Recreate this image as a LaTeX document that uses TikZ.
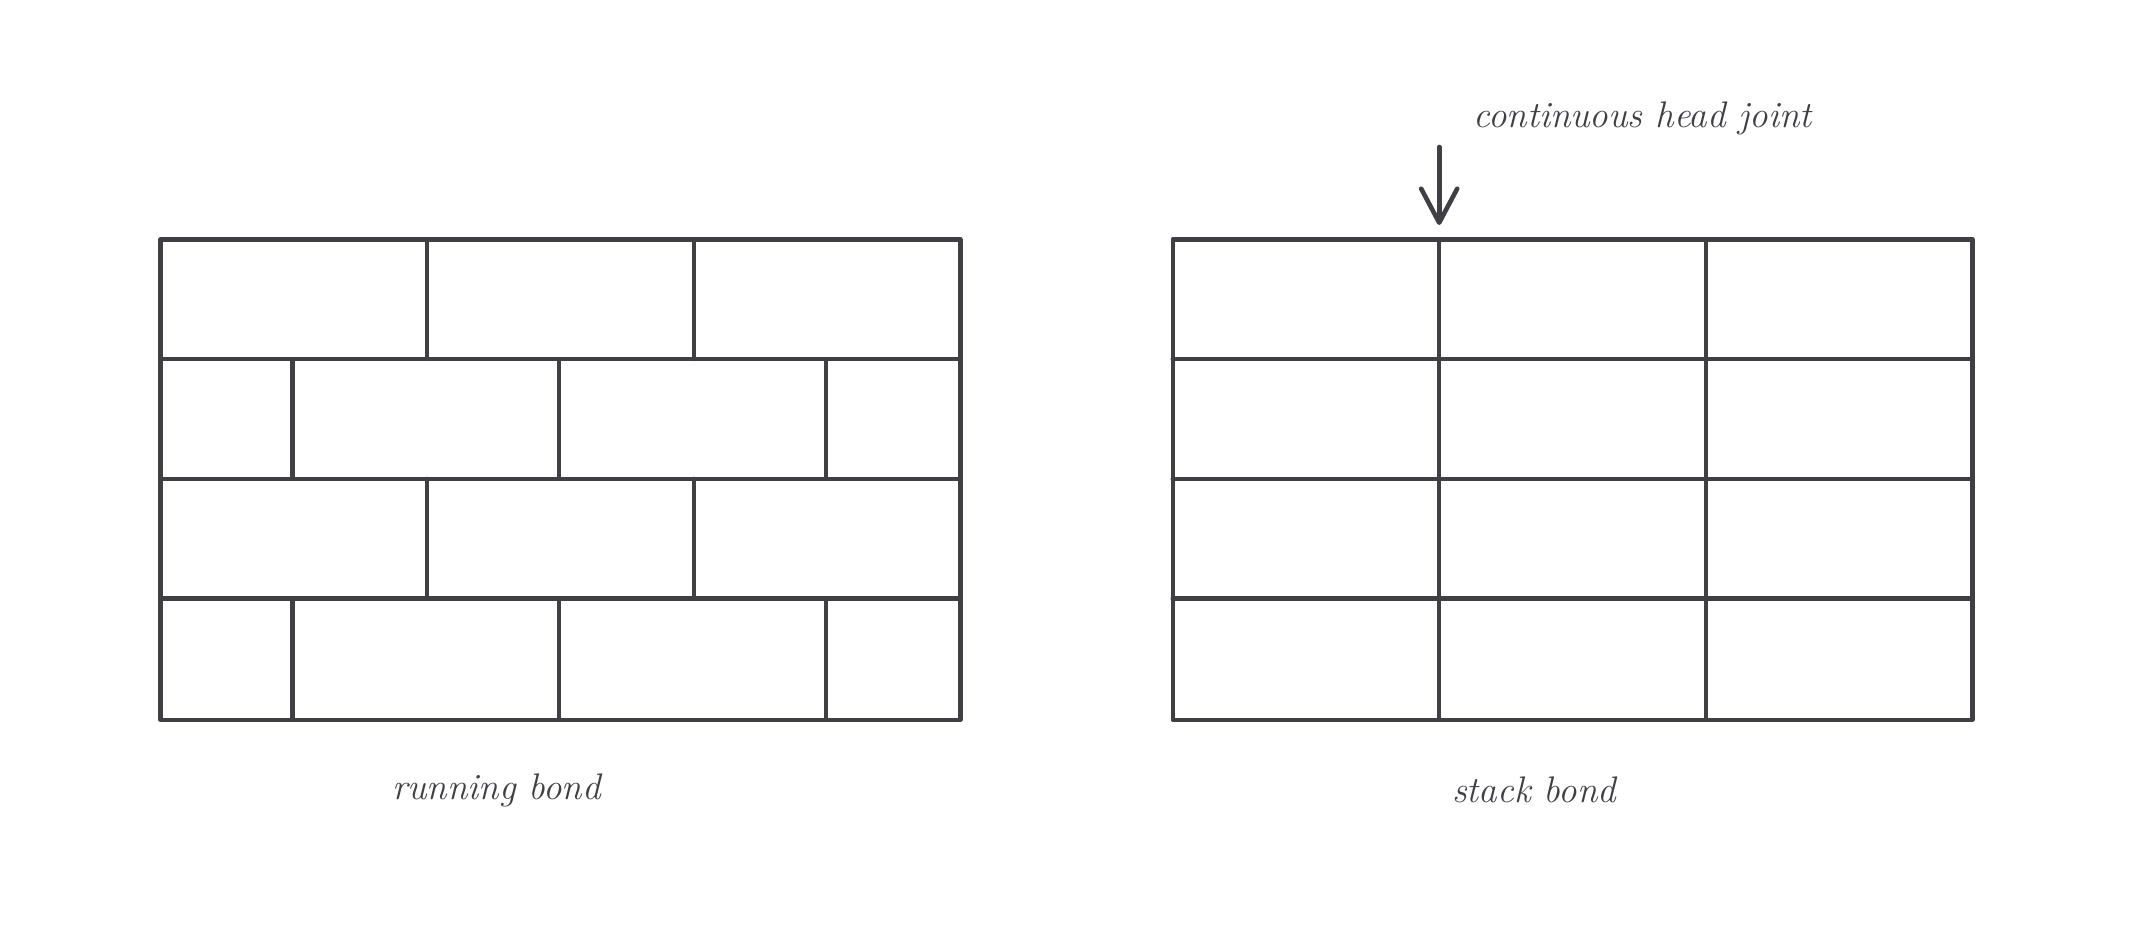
\documentclass[tikz,border=0pt]{standalone}
\usetikzlibrary{arrows.meta}
\definecolor{ink}{RGB}{64,64,68}
\begin{document}
\begin{tikzpicture}[x=0.5pt,y=-0.5pt,
  wall/.style={draw=ink,line width=2.1pt,line cap=round,line join=round},
  lbl/.style={text=ink,font=\fontsize{18.5}{22}\selectfont\itshape,inner sep=0pt},
  pointer/.style={draw=ink,line width=2.3pt,line cap=round,-{Straight Barb[length=17pt,width=18pt,line cap=round,line join=round]}}]
\useasboundingbox (0,0) rectangle (2133,933);
% running bond
\draw[wall] (160.5,239.4) rectangle (960.4,719.6);
\foreach \y in {359.1,478.8,598.5} \draw[wall] (160.5,\y) -- (960.4,\y);
\foreach \x in {427.1,693.8} {
  \draw[wall] (\x,239.4) -- (\x,359.1);
  \draw[wall] (\x,478.8) -- (\x,598.5);}
\foreach \x in {292.5,559.1,825.7} {
  \draw[wall] (\x,359.1) -- (\x,478.8);
  \draw[wall] (\x,598.5) -- (\x,719.6);}
% stack bond
\draw[wall] (1172.6,239.4) rectangle (1972.4,719.6);
\foreach \y in {359.1,478.8,598.5} \draw[wall] (1172.6,\y) -- (1972.4,\y);
\foreach \x in {1439.2,1705.8} \draw[wall] (\x,239.4) -- (\x,719.6);
% labels
\node[lbl] (rb) at (496.5,790) {running bond};
\node[lbl] (sb) at (1534,790) {stack bond};
\node[lbl,anchor=west] (chj) at (1473,118) {continuous head joint};
\coordinate (astart) at (1439.2,147);
\coordinate (aend) at (1439.2,225);
\draw[pointer] (astart) -- (aend);
\end{tikzpicture}
\end{document}
